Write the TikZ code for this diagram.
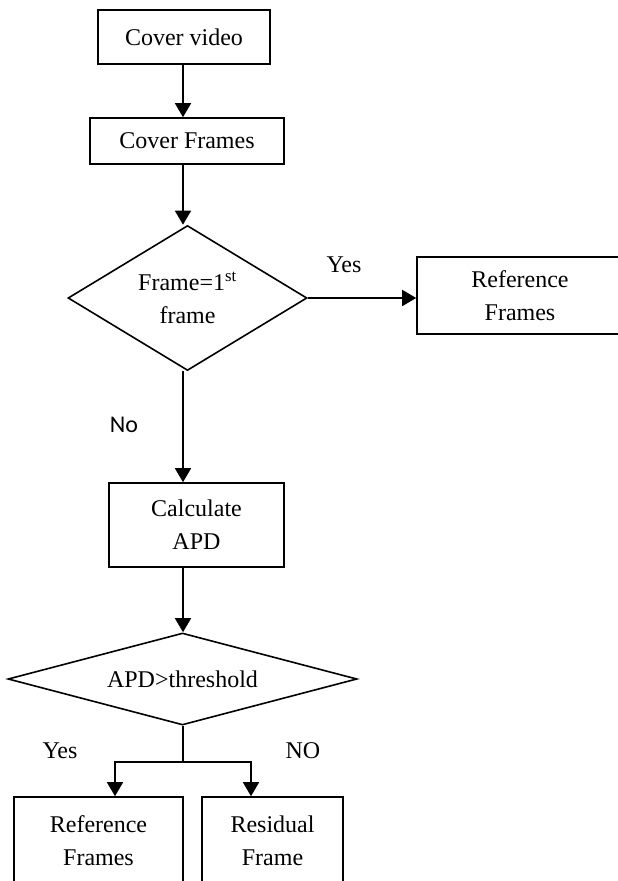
\documentclass[tikz,border=0pt]{standalone}
\usepackage{fontspec}
\setmainfont{Liberation Serif}
\newfontfamily\nofont{Carlito}
\usetikzlibrary{arrows.meta,shapes.geometric}
\begin{document}
\begin{tikzpicture}[x=1pt,y=-1pt,
  every node/.style={font=\fontsize{24}{33}\selectfont},
  box/.style={draw,line width=1.6pt,rectangle,inner sep=0pt,align=center},
  dec/.style={draw,line width=1.6pt,diamond,inner sep=0pt,align=center},
  arr/.style={line width=1.6pt,-{Triangle[width=16pt,length=14pt]}},
  ln/.style={line width=1.6pt},
  lbl/.style={inner sep=0pt}]
\useasboundingbox (0,0) rectangle (618,881);
\clip (0,0) rectangle (618,881);
\coordinate (col) at (183,0);
\node[box,minimum width=172pt,minimum height=54pt] (cv) at (184,37) {Cover video};
\node[box,minimum width=194pt,minimum height=46pt] (cf) at (187,141) {Cover Frames};
\node[dec,aspect=1.65,minimum width=239pt,minimum height=145pt] (d1) at (187.5,298) {Frame=1\textsuperscript{st}\\frame};
\node[box,minimum width=206pt,minimum height=77pt] (rf) at (520,295.5) {Reference\\Frames};
\node[box,minimum width=175pt,minimum height=84pt] (ca) at (196.5,525) {Calculate\\APD};
\node[dec,aspect=3.8,minimum width=349pt,minimum height=92pt] (d2) at (182.5,679) {APD>threshold};
\node[box,minimum width=169pt,minimum height=88pt] (rf2) at (98.5,841) {Reference\\Frames};
\node[box,minimum width=141pt,minimum height=88pt] (res) at (272.5,841) {Residual\\Frame};
\node[lbl] (y1) at (344,265) {Yes};
\node[lbl] (n1) at (124,425) {\nofont No};
\node[lbl] (y2) at (60,751) {Yes};
\node[lbl] (n2) at (303,751) {NO};
\coordinate (split) at (183,762);
\coordinate (sl) at (115,762);
\coordinate (sr) at (251,762);
\draw[arr] (cv.south -| col) -- (cf.north -| col);
\draw[arr] (cf.south -| col) -- (d1.north -| col);
\draw[arr] (d1.east) -- (d1.east -| rf.west);
\draw[arr] (d1.south -| col) -- (ca.north -| col);
\draw[arr] (ca.south -| col) -- (d2.north -| col);
\draw[ln] (d2.south -| col) -- (split);
\draw[arr] (split) -- (sl) -- (sl |- rf2.north);
\draw[arr] (split) -- (sr) -- (sr |- res.north);
\end{tikzpicture}
\end{document}
